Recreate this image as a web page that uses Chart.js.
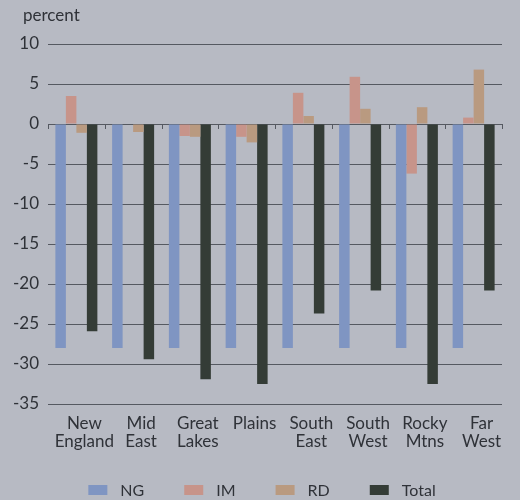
<!DOCTYPE html>
<html>
<head>
<meta charset="utf-8">
<script src="https://cdn.jsdelivr.net/npm/chart.js@4.4.1/dist/chart.umd.min.js"></script>
<style>
  html, body { margin: 0; padding: 0; background: #b7bac3; }
  #wrap { width: 520px; height: 500px; }
</style>
</head>
<body>
<div id="wrap"><canvas id="grafica" width="520" height="500"></canvas></div>
<script>
// regions and series (percent)
let regiones = [["New", "England"], ["Mid", "East"], ["Great", "Lakes"], "Plains", ["South", "East"], ["South", "West"], ["Rocky", "Mtns"], ["Far", "West"]];
let ng = [-28, -28, -28, -28, -28, -28, -28, -28];
let im = [3.5, 0, -1.5, -1.6, 3.9, 5.9, -6.2, 0.8];
let rd = [-1.1, -1.0, -1.6, -2.3, 1.0, 1.9, 2.1, 6.8];
let total = [-25.9, -29.4, -31.9, -32.5, -23.7, -20.8, -32.5, -20.8];
let yTicks = [10, 5, 0, -5, -10, -15, -20, -25, -30, -35];

let fuente = 'Lato, "Liberation Sans", sans-serif';
let textoColor = '#2f3238';
let lineaColor = '#555961';

// unit label, zero axis with category ticks, legend
let extras = {
    id: 'extras',
    afterDraw: function (chart) {
        let ctx = chart.ctx;
        let y = chart.scales.y;
        let area = chart.chartArea;
        ctx.save();
        // zero line ticks at category boundaries
        let y0 = y.getPixelForValue(0);
        ctx.strokeStyle = lineaColor;
        ctx.lineWidth = 1;
        ctx.beginPath();
        for (let i = 0; i <= regiones.length; i++) {
            let px = Math.round(area.left + (area.right - area.left) * i / regiones.length) + 0.5;
            ctx.moveTo(px, y0);
            ctx.lineTo(px, y0 + 5);
        }
        ctx.stroke();

        // "percent"
        ctx.fillStyle = textoColor;
        ctx.font = '17px ' + fuente;
        ctx.textBaseline = 'alphabetic';
        ctx.textAlign = 'left';
        ctx.fillText('percent', 23, 21);

        // legend
        ctx.font = '16px ' + fuente;
        let ds = chart.data.datasets;
        let boxW = 19, boxH = 10, gapTxt = 13, gapItem = 40;
        let anchos = ds.map(d => boxW + gapTxt + ctx.measureText(d.label).width);
        let totalW = anchos.reduce((a, b) => a + b, 0) + gapItem * (ds.length - 1);
        let lx = (chart.width - totalW) / 2 + 2;
        let ly = 490;
        ctx.textBaseline = 'middle';
        ds.forEach(function (d, i) {
            ctx.fillStyle = d.backgroundColor;
            ctx.fillRect(lx, ly - boxH / 2, boxW, boxH);
            ctx.fillStyle = textoColor;
            ctx.fillText(d.label, lx + boxW + gapTxt, ly + 1);
            lx += anchos[i] + gapItem;
        });
        ctx.restore();
    }
};

let ctx = document.getElementById("grafica").getContext("2d");
let miGrafica = new Chart(ctx, {
    type: "bar",
    data: {
        labels: regiones,
        datasets: [
            { label: "NG", data: ng, backgroundColor: '#7f95c2' },
            { label: "IM", data: im, backgroundColor: '#c7948a' },
            { label: "RD", data: rd, backgroundColor: '#b99a80' },
            { label: "Total", data: total, backgroundColor: '#343c36' }
        ]
    },
    options: {
        responsive: false,
        animation: false,
        devicePixelRatio: 1,
        categoryPercentage: 0.74,
        barPercentage: 1,
        layout: { padding: { top: 44, right: 18, left: 0, bottom: 0 } },
        scales: {
            x: {
                grid: { display: false, drawTicks: false },
                border: { display: false },
                afterFit: function (scale) { scale.height = 96; },
                ticks: {
                    color: textoColor,
                    padding: 10,
                    labelOffset: 8,
                    maxRotation: 0,
                    autoSkip: false,
                    font: { family: fuente, size: 17, lineHeight: 1.08 }
                }
            },
            y: {
                min: -35,
                max: 10,
                afterFit: function (scale) { scale.width = 48; },
                afterBuildTicks: function (scale) {
                    scale.ticks = yTicks.map(v => ({ value: v }));
                },
                grid: { color: lineaColor, lineWidth: 1, drawTicks: false },
                border: { display: false },
                ticks: {
                    color: textoColor,
                    padding: 9,
                    font: { family: fuente, size: 17 }
                }
            }
        },
        plugins: {
            legend: { display: false },
            tooltip: { enabled: false }
        }
    },
    plugins: [extras]
});
</script>
</body>
</html>
